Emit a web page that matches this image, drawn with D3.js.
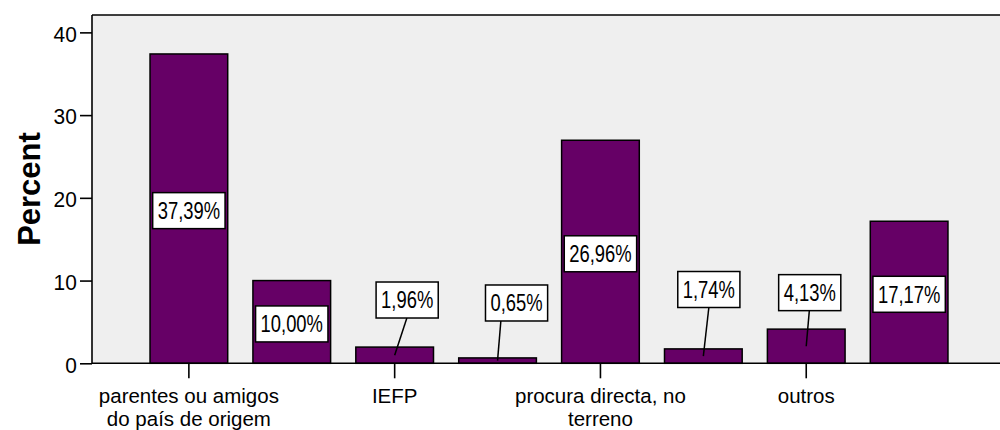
<!DOCTYPE html>
<html><head><meta charset="utf-8">
<script src="https://cdn.jsdelivr.net/npm/d3@7"></script>
<style>
html,body{margin:0;padding:0;background:#fff;}
svg{display:block;}
</style></head>
<body>
<svg id="chart" width="1000" height="430"></svg>
<script>
// ---- data ----
const categories = ["cat1","cat2","cat3","cat4","cat5","cat6","cat7","cat8"];
const values = [37.39, 10.00, 1.96, 0.65, 26.96, 1.74, 4.13, 17.17];
const valueLabels = ["37,39%","10,00%","1,96%","0,65%","26,96%","1,74%","4,13%","17,17%"];
const tickLabels = [["parentes ou amigos","do país de origem"], [], ["IEFP"], [], ["procura directa, no","terreno"], [], ["outros"], []];
const yTicks = [0, 10, 20, 30, 40];

// ---- layout for callout labels on small bars (index: [box dx px, box centre y in value units, leader top dx px]) ----
const callouts = {2: [12.5, 7.65, 12.2], 3: [19, 7.29, 3.3], 5: [5.5, 8.92, 5.5], 6: [3.5, 8.54, 3.1]};

const svg = d3.select("#chart");
const L = 92, R = 1006, T = 15, B = 363.3;
const FONT = "Liberation Sans, Arial, sans-serif";

const x = d3.scaleBand().domain(d3.range(categories.length)).range([L, R]).paddingInner(0.245).paddingOuter(0.564);
const y = d3.scaleLinear().domain([0, 42.1]).range([B, T]);

// plot background
svg.append("rect").attr("x", L).attr("y", T).attr("width", R - L).attr("height", B - T).attr("fill", "#efefef");
svg.append("line").attr("x1", L).attr("x2", R).attr("y1", T).attr("y2", T).attr("stroke", "#000").attr("stroke-width", 1.6);

// bars
svg.selectAll("rect.bar").data(values).join("rect").attr("class", "bar")
  .attr("x", (d, i) => x(i)).attr("width", x.bandwidth())
  .attr("y", d => y(d)).attr("height", d => B - y(d))
  .attr("fill", "#660066").attr("stroke", "#000").attr("stroke-width", 1.5);

// y axis
const yAxis = d3.axisLeft(y).tickValues(yTicks).tickSize(12).tickPadding(3).tickFormat(d3.format("d"));
const gy = svg.append("g").attr("transform", `translate(${L},0)`).call(yAxis);
gy.select(".domain").attr("d", `M0,${T}V${B}`).attr("stroke", "#000").attr("stroke-width", 1.6);
gy.selectAll(".tick line").attr("stroke", "#000").attr("stroke-width", 1.6);
gy.selectAll(".tick text").attr("font-family", FONT).attr("font-size", 22).attr("fill", "#000")
  .attr("dy", "0.4em").attr("transform", "scale(0.95,1)").attr("x", -16);

// x axis
const labelled = d3.range(categories.length).filter(i => tickLabels[i].length > 0);
const xAxis = d3.axisBottom(x).tickValues(labelled).tickSize(15).tickFormat(() => "");
const gx = svg.append("g").attr("transform", `translate(0,${B})`).call(xAxis);
gx.select(".domain").attr("d", `M${L},0H${R}`).attr("stroke", "#000").attr("stroke-width", 1.6);
gx.selectAll(".tick line").attr("stroke", "#000").attr("stroke-width", 1.6);
gx.selectAll(".tick").each(function (i) {
  const t = d3.select(this).append("text").attr("fill", "#000").attr("text-anchor", "middle")
    .attr("font-family", FONT).attr("font-size", 20.5);
  tickLabels[i].forEach((s, k) => t.append("tspan").attr("x", 0).attr("y", 39.7 + k * 23).text(s));
});

// y title
svg.append("text").attr("transform", `translate(40,${(130 + 248) / 2}) rotate(-90)`)
  .attr("text-anchor", "middle").attr("font-family", FONT)
  .attr("font-weight", "bold").attr("font-size", 31).attr("fill", "#000").text("Percent");

// value labels
const lab = svg.append("g");
const SX = 0.8;
values.forEach((v, i) => {
  const cx = x(i) + x.bandwidth() / 2;
  let bx = cx, by = y(v / 2) + 2;
  const co = callouts[i];
  if (co) {
    bx = cx + co[0];
    by = y(co[1]);
  }
  const g = lab.append("g").attr("transform", `translate(${bx},${by})`);
  const t = g.append("text").attr("dy", "0.36em").attr("text-anchor", "middle")
    .attr("transform", `scale(${SX},1)`)
    .attr("font-family", FONT).attr("font-size", 23)
    .attr("fill", "#000").text(valueLabels[i]);
  const w = t.node().getComputedTextLength() * SX + 10, h = 36;
  g.insert("rect", "text").attr("x", -w / 2).attr("y", -h / 2).attr("width", w).attr("height", h)
    .attr("fill", "#fff").attr("stroke", "#000").attr("stroke-width", 1.5);
  if (co) {
    lab.insert("line", ":first-child").attr("x1", cx).attr("y1", y(v / 2)).attr("x2", cx + co[2]).attr("y2", by + h / 2)
      .attr("stroke", "#000").attr("stroke-width", 1.5);
  }
});
</script>
</body></html>
